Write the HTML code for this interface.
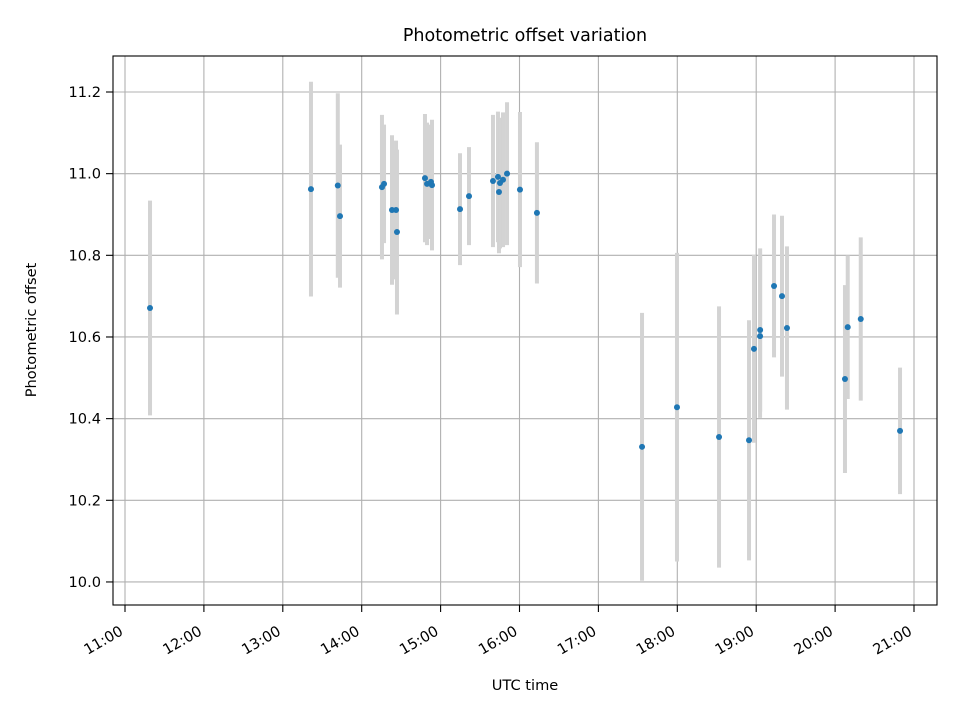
<!DOCTYPE html>
<html><head><meta charset="utf-8"><style>
body{margin:0;background:#fff}
text{font-family:"DejaVu Sans","Liberation Sans",sans-serif;fill:#000}
</style></head><body>
<svg id="chart" width="960" height="720" xmlns="http://www.w3.org/2000/svg">
<rect width="960" height="720" fill="#fff"/>
<g id="grid"></g>
<g id="bars"></g>
<g id="pts"></g>
<rect x="113" y="56" width="824" height="549" fill="none" stroke="#000" stroke-width="1.1"/>
<g id="ticks"></g>
<text x="525" y="41" text-anchor="middle" font-size="17.5">Photometric offset variation</text>
<text x="525" y="690" text-anchor="middle" font-size="14.6">UTC time</text>
<text transform="translate(36,330) rotate(-90)" text-anchor="middle" font-size="14.6">Photometric offset</text>
</svg>
<script>
const hours=[11.317,13.357,13.697,13.725,14.257,14.283,14.384,14.435,14.447,14.802,14.828,14.878,14.891,15.246,15.360,15.664,15.727,15.740,15.753,15.791,15.842,16.006,16.221,17.553,17.996,18.529,18.909,18.972,19.049,19.05,19.226,19.327,19.39,20.125,20.16,20.325,20.823];
const offsets=[10.671,10.962,10.971,10.896,10.967,10.975,10.911,10.911,10.857,10.989,10.975,10.980,10.972,10.913,10.945,10.982,10.992,10.955,10.977,10.985,11.0,10.961,10.904,10.331,10.428,10.355,10.347,10.571,10.602,10.617,10.725,10.700,10.622,10.497,10.624,10.644,10.370];
const errors=[0.263,0.263,0.226,0.175,0.177,0.145,0.183,0.17,0.202,0.157,0.15,0.14,0.16,0.137,0.12,0.162,0.16,0.15,0.16,0.165,0.175,0.19,0.173,0.328,0.378,0.32,0.294,0.23,0.2,0.2,0.175,0.197,0.2,0.23,0.176,0.2,0.155];
const xTickHours=[11,12,13,14,15,16,17,18,19,20,21];
const xTickLabels=["11:00","12:00","13:00","14:00","15:00","16:00","17:00","18:00","19:00","20:00","21:00"];
const yTicks=[10.0,10.2,10.4,10.6,10.8,11.0,11.2];
const yTickLabels=["10.0","10.2","10.4","10.6","10.8","11.0","11.2"];
const NS="http://www.w3.org/2000/svg";
const X=h=>125+(h-11)*78.9;
const Y=v=>92+(11.2-v)*408.3;
function mk(p,tag,a){const e=document.createElementNS(NS,tag);for(const k in a)e.setAttribute(k,a[k]);p.appendChild(e);return e;}
const grid=document.getElementById('grid'),ticks=document.getElementById('ticks'),bars=document.getElementById('bars'),pts=document.getElementById('pts');
xTickHours.forEach((h,i)=>{const x=X(h);
 const g=mk(grid,'line',{x1:x,x2:x,y1:56,y2:605,stroke:'#b0b0b0','stroke-width':1.1});
 
 
 const t=mk(ticks,'line',{x1:x,x2:x,y1:605,y2:612,stroke:'#000','stroke-width':1.1});
 
 
 const l=mk(ticks,'text',{transform:`translate(${x-1},${634}) rotate(-30)`,'text-anchor':'end','font-size':14.6});
 l.textContent=xTickLabels[i];
 
 
});
yTicks.forEach((v,i)=>{const y=Y(v);
 const g=mk(grid,'line',{x1:113,x2:937,y1:y,y2:y,stroke:'#b0b0b0','stroke-width':1.1});
 
 
 const t=mk(ticks,'line',{x1:106,x2:113,y1:y,y2:y,stroke:'#000','stroke-width':1.1});
 
 
 const l=mk(ticks,'text',{x:101,y:y+5,'text-anchor':'end','font-size':14.6});
 l.textContent=yTickLabels[i];
 
 
});
hours.forEach((h,i)=>{const x=X(h);
 const b=mk(bars,'line',{x1:x,x2:x,y1:Y(offsets[i]+errors[i]),y2:Y(offsets[i]-errors[i]),stroke:'#d3d3d3','stroke-width':4});
 
 
 const c=mk(pts,'circle',{cx:x,cy:Y(offsets[i]),r:3,fill:'#1f77b4'});
 
 
});
</script>
</body></html>
